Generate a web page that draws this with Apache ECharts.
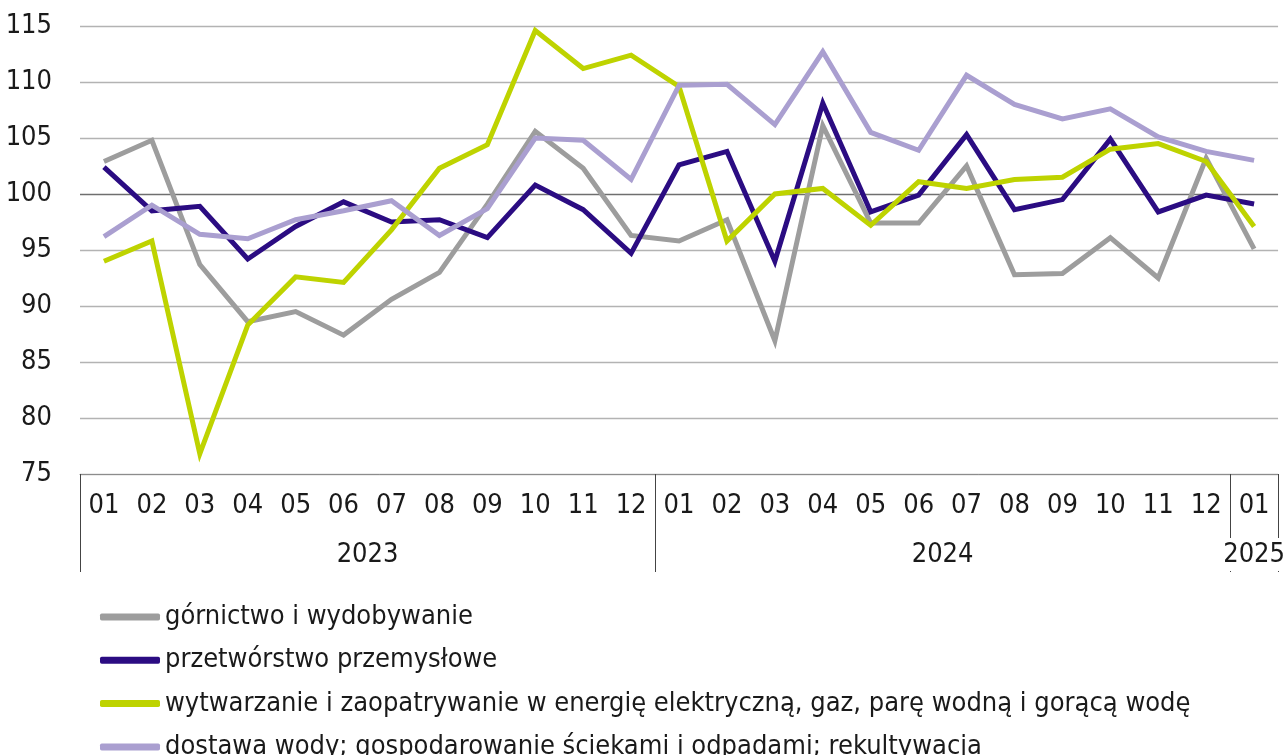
<!DOCTYPE html>
<html>
<head>
<meta charset="utf-8">
<script src="https://cdn.jsdelivr.net/npm/echarts@6/dist/echarts.min.js"></script>
<style>
html,body{margin:0;padding:0;background:#fff;overflow:hidden;}
#chart{width:1288px;height:790px;}
</style>
</head>
<body>
<div id="chart"></div>
<script>
const months = ['01','02','03','04','05','06','07','08','09','10','11','12',
                '01','02','03','04','05','06','07','08','09','10','11','12','01'];
const years = ['2023','2024','2025'];
const yearSpans = [12, 12, 1];

const seriesNames = [
  'górnictwo i wydobywanie',
  'przetwórstwo przemysłowe',
  'wytwarzanie i zaopatrywanie w energię elektryczną, gaz, parę wodną i gorącą wodę',
  'dostawa wody; gospodarowanie ściekami i odpadami; rekultywacja'
];
const gornictwo = [102.9,104.8,93.7,88.6,89.5,87.4,90.6,93.0,99.1,105.6,102.3,96.3,
                   95.8,97.7,86.9,106.1,97.4,97.4,102.5,92.8,92.9,96.1,92.5,103.2,95.1];
const przetworstwo = [102.4,98.5,98.9,94.2,97.1,99.3,97.5,97.7,96.1,100.8,98.6,94.7,
                      102.6,103.8,94.0,108.1,98.4,99.9,105.3,98.6,99.5,104.9,98.4,99.9,99.1];
const energia = [94.0,95.8,76.8,88.3,92.6,92.1,96.8,102.3,104.4,114.6,111.2,112.4,
                 109.6,95.8,100.0,100.5,97.2,101.1,100.5,101.3,101.5,104.0,104.5,102.9,97.1];
const woda = [96.2,99.0,96.4,96.0,97.7,98.5,99.4,96.3,98.7,105.0,104.8,101.3,
              109.7,109.8,106.2,112.7,105.5,103.9,110.6,108.0,106.7,107.6,105.1,103.8,103.0];

const colors = ['#9d9d9d', '#2b0c82', '#bed300', '#aa9fd0'];
const FONT = "'Liberation Sans Narrow', 'DejaVu Sans Condensed', sans-serif";
const TXT = '#1a1a1a';
const FS = 27;

// year boundaries and centres on a 0..N value scale
const bounds = [0];
yearSpans.forEach(s => bounds.push(bounds[bounds.length - 1] + s));
const centres = yearSpans.map((s, i) => bounds[i] + s / 2);

const chart = echarts.init(document.getElementById('chart'));
const data = [gornictwo, przetworstwo, energia, woda];

chart.setOption({
  animation: false,
  textStyle: { fontFamily: FONT },
  grid: { left: 80, right: 8, top: 26, bottom: 316, containLabel: false },
  xAxis: [
    {
      type: 'category',
      data: months,
      boundaryGap: true,
      position: 'bottom',
      axisLine: { show: true, lineStyle: { color: '#8c8c8c', width: 1 } },
      axisTick: { show: false },
      axisLabel: { fontSize: FS, color: TXT, fontFamily: FONT, margin: 18, interval: 0 }
    },
    {
      type: 'value',
      min: 0,
      max: bounds[bounds.length - 1],
      position: 'bottom',
      axisLine: { show: false },
      splitLine: { show: false },
      axisTick: {
        show: true, length: 98, customValues: bounds,
        lineStyle: { color: '#444', width: 1 }
      },
      axisLabel: {
        show: true, customValues: centres, fontSize: FS, color: TXT, fontFamily: FONT, margin: 64,
        backgroundColor: '#ffffff', padding: [3, 0, 3, 0],
        formatter: v => { const i = centres.indexOf(v); return i >= 0 ? years[i] : ''; }
      }
    }
  ],
  yAxis: {
    type: 'value',
    min: 75, max: 115, interval: 5,
    axisLine: { show: false },
    axisTick: { show: false },
    axisLabel: { fontSize: FS, color: TXT, fontFamily: FONT, margin: 28 },
    splitLine: {
      show: true,
      lineStyle: { color: ['#b3b3b3','#b3b3b3','#b3b3b3','#b3b3b3','#b3b3b3','#6f6f6f','#b3b3b3','#b3b3b3','#b3b3b3'], width: 1.3 }
    }
  },
  legend: {
    orient: 'vertical',
    left: 95, top: 598,
    icon: 'roundRect',
    itemWidth: 60, itemHeight: 7,
    itemGap: 15.3,
    textStyle: { fontSize: FS, color: TXT, fontFamily: FONT, lineHeight: 28 },
    data: seriesNames
  },
  series: seriesNames.map((n, i) => ({
    name: n,
    type: 'line',
    xAxisIndex: 0,
    data: data[i],
    showSymbol: false,
    symbol: 'none',
    lineStyle: { color: colors[i], width: 5, join: 'miter' },
    itemStyle: { color: colors[i] }
  }))
});
</script>
</body>
</html>
